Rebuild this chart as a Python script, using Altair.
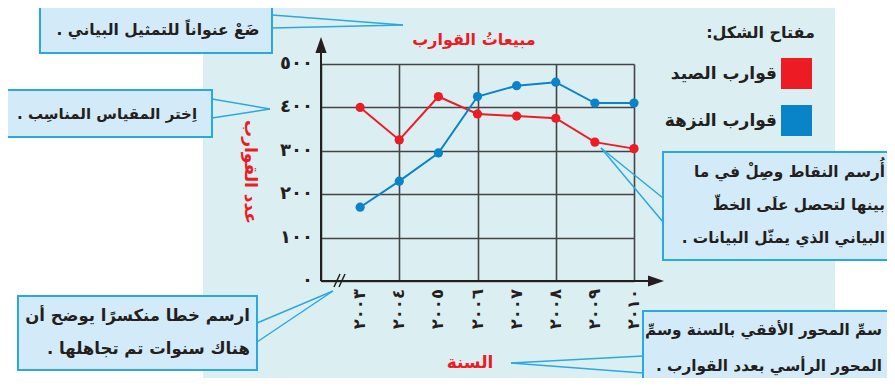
import altair as alt
import pandas as pd

# ---------------- data ----------------
years = [2003, 2004, 2005, 2006, 2007, 2008, 2009, 2010]
year_labels = ["٢٠٠٣", "٢٠٠٤", "٢٠٠٥", "٢٠٠٦", "٢٠٠٧", "٢٠٠٨", "٢٠٠٩", "٢٠١٠"]
fishing_boats = [400, 325, 425, 385, 380, 375, 320, 305]
pleasure_boats = [170, 230, 295, 425, 450, 458, 410, 410]
series_names = ["قوارب الصيد", "قوارب النزهة"]
y_ticks = [0, 100, 200, 300, 400, 500]
y_tick_labels = ["٠", "١٠٠", "٢٠٠", "٣٠٠", "٤٠٠", "٥٠٠"]

RED = "#ed1c24"
BLUE = "#0a84c8"
PANEL = "#dbeff3"
BOX_FILL = "#d3ebf9"
BOX_STROKE = "#2aa8e0"
INK = "#231f20"
FONT = "DejaVu Sans"
RLM = "\u200f"

df = pd.DataFrame({
    "year": years * 2,
    "value": fishing_boats + pleasure_boats,
    "series": [series_names[0]] * len(years) + [series_names[1]] * len(years),
})
xlab = pd.DataFrame({"year": years, "label": year_labels})
ylab = pd.DataFrame({"value": y_ticks, "label": y_tick_labels})

# plot-area origin on the page
OX, OY = 321, 64
W, H = 313, 217

x_scale = alt.Scale(domain=[2002, 2010], nice=False, zero=False)
y_scale = alt.Scale(domain=[0, 500], nice=False)

one = pd.DataFrame({"k": [0]})


def px(x):
    return x - OX


def py(y):
    return y - OY


def rect(x1, y1, x2, y2, fill, stroke=None, sw=0):
    kw = dict(fill=fill)
    if stroke:
        kw.update(stroke=stroke, strokeWidth=sw)
    return alt.Chart(one).mark_rect(**kw).encode(
        x=alt.value(px(x1)), x2=alt.value(px(x2)),
        y=alt.value(py(y1)), y2=alt.value(py(y2)))


def rule(x1, y1, x2, y2, color, sw):
    return alt.Chart(one).mark_rule(color=color, strokeWidth=sw).encode(
        x=alt.value(px(x1)), x2=alt.value(px(x2)),
        y=alt.value(py(y1)), y2=alt.value(py(y2)))


def text(s, x, y, size=17, color=INK, align="center", weight="bold",
         angle=0, lh=None):
    kw = dict(text=s, fontSize=size, color=color, align=align,
              baseline="middle", font=FONT, fontWeight=weight)
    if angle:
        kw["angle"] = angle
    if lh:
        kw["lineHeight"] = lh
    return alt.Chart(one).mark_text(**kw).encode(
        x=alt.value(px(x)), y=alt.value(py(y)))


def callout(x1, y1, x2, y2, base1, base2, tip):
    return [
        rule(base1[0], base1[1], tip[0], tip[1], BOX_STROKE, 1.5),
        rule(base2[0], base2[1], tip[0], tip[1], BOX_STROKE, 1.5),
        rect(x1, y1, x2, y2, BOX_FILL, BOX_STROKE, 2),
    ]


layers = []

# grid via axes (drawn beneath all marks)
base = alt.Chart(df).encode(
    x=alt.X("year:Q", scale=x_scale,
            axis=alt.Axis(values=list(range(2002, 2011)), grid=True,
                          labels=False, ticks=False, domain=False,
                          title=None, gridColor="#444444", gridWidth=1.6,
                          gridOpacity=1)),
    y=alt.Y("value:Q", scale=y_scale,
            axis=alt.Axis(values=y_ticks, grid=True, labels=False,
                          ticks=False, domain=False, title=None,
                          gridColor="#444444", gridWidth=1.6,
                          gridOpacity=1)),
)
layers.append(base.mark_point(opacity=0))

# white page areas outside the light-blue panel
layers.append(rect(0, 0, 203, 400, "white"))
layers.append(rect(835, 0, 900, 400, "white"))

# axes lines and arrows
layers.append(rule(321, 281, 321, 48, INK, 2))
layers.append(rule(321, 281, 654, 281, INK, 2))
layers.append(alt.Chart(one).mark_point(
    shape="M0,-1L0.7,1L-0.7,1Z", filled=True, fill=INK, size=256, opacity=1
).encode(x=alt.value(px(321)), y=alt.value(py(45))))
layers.append(alt.Chart(one).mark_point(
    shape="M1,0L-1,0.7L-1,-0.7Z", filled=True, fill=INK, size=256, opacity=1
).encode(x=alt.value(px(656)), y=alt.value(py(281))))
# axis break
layers.append(rule(334, 287, 340, 274, INK, 1.5))
layers.append(rule(339, 287, 345, 274, INK, 1.5))

# series
for name, color in zip(series_names, [RED, BLUE]):
    sub = alt.Chart(df).transform_filter(alt.datum.series == name)
    enc = dict(x=alt.X("year:Q", scale=x_scale),
               y=alt.Y("value:Q", scale=y_scale))
    layers.append(sub.mark_line(color=color, strokeWidth=2).encode(**enc))
    layers.append(sub.mark_circle(color=color, size=85, opacity=1).encode(**enc))

# tick labels via scales
layers.append(alt.Chart(xlab).mark_text(
    angle=270, align="right", baseline="middle", fontSize=16.5,
    fontWeight="bold", font=FONT, color=INK
).encode(x=alt.X("year:Q", scale=x_scale), y=alt.value(py(289)),
         text="label:N"))
layers.append(alt.Chart(ylab).mark_text(
    align="right", baseline="middle", fontSize=18, fontWeight="bold",
    font=FONT, color=INK
).encode(y=alt.Y("value:Q", scale=y_scale), x=alt.value(px(313)),
         text="label:N"))

# titles
layers.append(text("مبيعاتُ القوارب", 474, 40, size=16, color=RED))
layers.append(text("عدد القوارب", 250, 172, size=17, color=RED, angle=90))
layers.append(text("السنة", 470, 363, size=17, color=RED))

# legend
layers.append(text("مفتاح الشكل:" + RLM, 815, 33, size=16, align="right"))
layers.append(rect(781, 58, 812, 89, RED))
layers.append(rect(781, 105, 812, 136, BLUE))
layers.append(text(series_names[0], 777, 74, size=17, align="right"))
layers.append(text(series_names[1], 777, 121, size=17, align="right"))

# callouts
layers += callout(40, 3, 272, 53, (272, 15), (272, 28), (403, 25))
layers.append(text("ضَعْ عنواناً للتمثيل البياني ." + RLM, 158, 30, size=15.5))

layers += callout(3, 90, 212, 137, (212, 99), (212, 118), (270, 109))
layers.append(text("اِختر المقياس المناسِب ." + RLM, 107, 114, size=15))

layers += callout(18, 296, 257, 370, (257, 323), (257, 342), (333, 291))
layers.append(text(["ارسم خطا منكسرًا يوضح أن", "هناك سنوات تم تجاهلها ." + RLM],
                   250, 316, size=16.5, align="right", lh=33))

layers += callout(663, 152, 900, 260, (663, 198), (663, 222), (601, 148))
layers.append(text(["أُرسم النقاط وصِلْ في ما", "بينها لتحصل علَى الخطّ",
                    "البياني الذي يمثّل البيانات ." + RLM],
                   885, 172, size=15.3, align="right", lh=33))

layers += callout(643, 311, 900, 384, (643, 356), (643, 373), (511, 363))
layers.append(text(["سمِّ المحور الأفقي بالسنة وسمِّ", "المحور الرأسي بعدد القوارب ." + RLM],
                   882, 330, size=15.3, align="right", lh=36))

chart = alt.layer(*layers).properties(
    width=W, height=H,
    padding={"left": OX - 8, "top": OY - 8, "right": 879 - (OX - 8) - W,
             "bottom": 370 - (OY - 8) - H},
    autosize=alt.AutoSizeParams(type="none"),
    background=PANEL,
).configure_view(stroke=None)

chart.save("out.html", embed_options={"renderer": "svg", "actions": False})
